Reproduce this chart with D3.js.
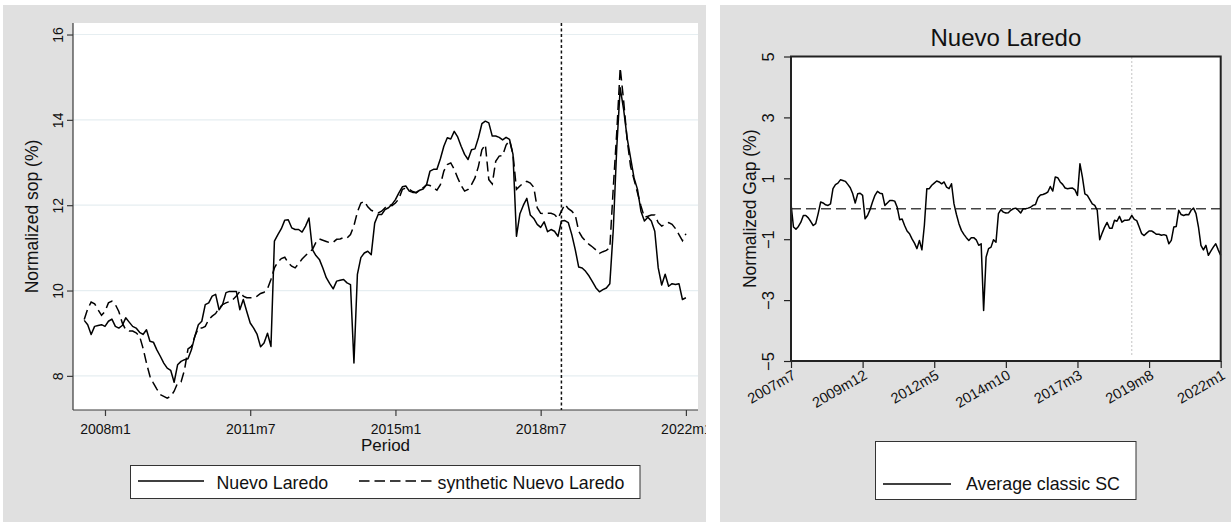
<!DOCTYPE html>
<html>
<head>
<meta charset="utf-8">
<script src="https://cdn.jsdelivr.net/npm/d3@7"></script>
<style>
  html, body { margin: 0; padding: 0; background: #ffffff; }
  svg { display: block; font-family: "Liberation Sans", Arial, sans-serif; }
</style>
</head>
<body>
<svg id="chart" width="1231" height="523"></svg>
<script>
// Monthly series, 2007m7 .. 2022m1
const startYear = 2007, startMonth = 7, nMonths = 175;
const periods = d3.range(nMonths).map(i => {
  const m = startMonth - 1 + i;
  return (startYear + Math.floor(m / 12)) + "m" + (m % 12 + 1);
});

// Normalized sop (%) for Nuevo Laredo
const nuevoLaredo = [
  9.30, 9.20, 8.97, 9.16, 9.18, 9.20, 9.16, 9.28, 9.33, 9.16,
  9.12, 9.18, 9.36, 9.26, 9.16, 9.12, 9.02, 8.97, 9.08, 8.81,
  8.79, 8.61, 8.46, 8.30, 8.18, 8.13, 7.85, 8.26, 8.34, 8.38,
  8.40, 8.61, 8.93, 9.20, 9.28, 9.67, 9.71, 9.87, 9.91, 9.55,
  9.67, 9.95, 9.98, 9.98, 9.98, 9.55, 9.79, 9.51, 9.24, 9.12,
  8.97, 8.68, 8.77, 9.00, 8.69, 11.16, 11.31, 11.45, 11.65, 11.66,
  11.47, 11.43, 11.43, 11.37, 11.51, 11.70, 10.96, 10.82, 10.73, 10.53,
  10.30, 10.16, 10.04, 10.22, 10.24, 10.26, 10.18, 10.14, 8.30, 10.38,
  10.77, 10.88, 10.92, 10.84, 11.58, 11.78, 11.78, 11.90, 11.94, 12.02,
  12.13, 12.29, 12.43, 12.45, 12.33, 12.30, 12.30, 12.35, 12.38, 12.48,
  12.80, 12.84, 12.84, 13.09, 13.38, 13.58, 13.55, 13.73, 13.60, 13.38,
  13.19, 13.07, 13.30, 13.32, 13.58, 13.91, 13.97, 13.93, 13.62, 13.62,
  13.59, 13.53, 13.59, 13.54, 13.19, 11.27, 11.80, 12.00, 12.16, 11.77,
  11.69, 11.55, 11.48, 11.61, 11.38, 11.43, 11.39, 11.27, 11.63, 11.64,
  11.59, 11.31, 10.96, 10.55, 10.53, 10.45, 10.34, 10.20, 10.06, 9.97,
  10.02, 10.06, 10.16, 11.43, 13.34, 14.75, 14.24, 13.58, 13.11, 12.64,
  12.37, 11.86, 11.63, 11.72, 11.63, 11.39, 10.53, 10.13, 10.38, 10.10,
  10.16, 10.14, 10.16, 9.79, 9.83
];

// Normalized sop (%) for the synthetic control
const syntheticNL = [
  9.32, 9.57, 9.73, 9.69, 9.55, 9.42, 9.51, 9.71, 9.75, 9.67,
  9.51, 9.24, 9.08, 9.05, 9.05, 9.01, 8.93, 8.65, 8.30, 7.99,
  7.83, 7.69, 7.56, 7.52, 7.48, 7.52, 7.64, 7.83, 7.86, 8.14,
  8.63, 8.69, 8.93, 9.12, 9.12, 9.16, 9.32, 9.40, 9.46, 9.59,
  9.67, 9.71, 9.74, 9.79, 9.87, 9.98, 9.87, 9.83, 9.83, 9.83,
  9.87, 9.93, 9.96, 10.04, 10.26, 10.53, 10.67, 10.75, 10.78, 10.65,
  10.57, 10.53, 10.63, 10.74, 10.82, 10.90, 10.96, 11.13, 11.21, 11.18,
  11.15, 11.12, 11.13, 11.20, 11.21, 11.24, 11.23, 11.31, 11.52, 11.84,
  12.05, 12.09, 11.96, 11.88, 11.85, 11.82, 11.86, 11.94, 12.01, 11.99,
  12.05, 12.15, 12.37, 12.40, 12.37, 12.32, 12.29, 12.35, 12.41, 12.48,
  12.46, 12.41, 12.35, 12.48, 12.80, 12.95, 12.99, 12.84, 12.64, 12.46,
  12.33, 12.37, 12.48, 12.64, 12.91, 13.30, 13.42, 12.60, 12.50, 13.03,
  13.15, 13.16, 13.41, 13.52, 13.19, 12.37, 12.45, 12.52, 12.56, 12.52,
  12.42, 11.94, 11.81, 11.80, 11.81, 11.81, 11.78, 11.69, 11.86, 12.02,
  11.92, 11.86, 11.77, 11.39, 11.25, 11.16, 11.08, 11.02, 10.95, 10.87,
  10.91, 10.94, 11.00, 12.41, 13.70, 15.22, 14.44, 13.54, 12.91, 12.60,
  12.29, 11.98, 11.72, 11.74, 11.77, 11.77, 11.59, 11.51, 11.55, 11.59,
  11.55, 11.45, 11.31, 11.17, 11.33
];

// Normalized gap (%), average classic SC
const avgClassicGap = [
  0.16, -0.60, -0.67, -0.58, -0.44, -0.22, -0.22, -0.30, -0.42, -0.55,
  -0.49, -0.16, 0.22, 0.19, 0.13, 0.11, 0.16, 0.66, 0.79, 0.84,
  0.95, 0.93, 0.90, 0.80, 0.69, 0.49, 0.19, 0.49, 0.51, 0.44,
  -0.33, -0.22, -0.03, 0.22, 0.44, 0.57, 0.51, 0.49, 0.11, 0.19,
  0.27, 0.27, 0.25, 0.05, -0.36, -0.34, -0.55, -0.73, -0.82, -0.99,
  -1.13, -1.31, -1.04, -1.35, -0.55, 0.66, 0.66, 0.77, 0.84, 0.91,
  0.88, 0.82, 0.88, 0.71, 0.66, 0.82, 0.16, -0.19, -0.49, -0.71,
  -0.84, -0.95, -1.04, -0.95, -0.95, -1.02, -1.20, -1.15, -3.34, -1.59,
  -1.31, -1.26, -1.02, -1.10, -0.16, -0.03, -0.11, -0.14, -0.13, -0.05,
  0.00, 0.02, -0.05, -0.14, 0.00, 0.00, 0.02, 0.05, 0.11, 0.14,
  0.36, 0.45, 0.47, 0.50, 0.55, 0.73, 0.58, 1.04, 1.02, 0.88,
  0.80, 0.68, 0.66, 0.67, 0.68, 0.62, 0.44, 1.48, 1.04, 0.49,
  0.44, 0.30, 0.16, 0.11, -0.05, -1.02, -0.80, -0.60, -0.45, -0.64,
  -0.64, -0.38, -0.41, -0.25, -0.44, -0.38, -0.38, -0.36, -0.22, -0.35,
  -0.39, -0.60, -0.82, -0.88, -0.80, -0.73, -0.73, -0.78, -0.84, -0.84,
  -0.87, -0.85, -0.88, -1.15, -1.04, -0.60, -0.58, -0.05, -0.19, -0.22,
  -0.19, -0.20, -0.05, 0.02, -0.16, -0.60, -1.20, -1.35, -1.20, -1.53,
  -1.39, -1.26, -1.15, -1.35, -1.53
];

const leftXTicks = ["2008m1", "2011m7", "2015m1", "2018m7", "2022m1"];
const leftYTicks = [8, 10, 12, 14, 16];
const rightXTicks = ["2007m7", "2009m12", "2012m5", "2014m10", "2017m3", "2019m8", "2022m1"];
const rightYTicks = [-5, -3, -1, 1, 3, 5];
const treatmentPeriod = "2019m1";
const seriesNames = ["Nuevo Laredo", "synthetic Nuevo Laredo"];
const gapName = "Average classic SC";

const idx = p => periods.indexOf(p);
const svg = d3.select("#chart");
const panelFill = "#e0e0e0";
const axisColor = "#3a3a3a";

// ---------- Left panel: observed vs synthetic ----------
const L = { left: 73, right: 698, top: 23, bottom: 410 };
svg.append("defs").append("clipPath").attr("id", "leftPanelClip")
  .append("rect").attr("x", 3).attr("y", 5).attr("width", 703).attr("height", 517);
const gL = svg.append("g").attr("clip-path", "url(#leftPanelClip)");

gL.append("rect").attr("x", 3).attr("y", 5).attr("width", 703).attr("height", 517).attr("fill", panelFill);
gL.append("rect").attr("x", L.left).attr("y", L.top)
  .attr("width", L.right - L.left).attr("height", L.bottom - L.top).attr("fill", "#fff");

const xL = d3.scaleLinear().domain([-3.25, 177.5]).range([L.left, L.right]);
const yL = d3.scaleLinear().domain([7.2, 16.27]).range([L.bottom, L.top]);

// grid
gL.append("g").selectAll("line").data(leftYTicks).join("line")
  .attr("x1", L.left).attr("x2", L.right)
  .attr("y1", d => yL(d)).attr("y2", d => yL(d))
  .attr("stroke", "#e6eef1").attr("stroke-width", 1.2);

// y axis
const yAxisL = gL.append("g").attr("transform", `translate(${L.left},0)`)
  .call(d3.axisLeft(yL).tickValues(leftYTicks).tickSize(6).tickFormat(d3.format("d")));
yAxisL.select(".domain").attr("stroke", axisColor).attr("stroke-width", 1.2)
  .attr("d", `M0,${L.top}V${L.bottom}`);
yAxisL.selectAll(".tick line").attr("stroke", axisColor).attr("stroke-width", 1.2);
yAxisL.selectAll(".tick text")
  .attr("transform", "rotate(-90)").attr("x", 0).attr("y", -10).attr("dy", 0)
  .attr("text-anchor", "middle").attr("font-size", 14).attr("fill", "#111")
  .attr("font-family", "'Liberation Sans', Arial, sans-serif");

// x axis
const xAxisL = gL.append("g").attr("transform", `translate(0,${L.bottom})`)
  .call(d3.axisBottom(xL).tickValues(leftXTicks.map(idx)).tickSize(6)
    .tickFormat(i => periods[i]));
xAxisL.select(".domain").attr("stroke", axisColor).attr("stroke-width", 1.2)
  .attr("d", `M${L.left},0H${L.right}`);
xAxisL.selectAll(".tick line").attr("stroke", axisColor).attr("stroke-width", 1.2);
xAxisL.selectAll(".tick text").attr("y", 14).attr("dy", "0.71em")
  .attr("font-size", 14).attr("fill", "#111")
  .attr("font-family", "'Liberation Sans', Arial, sans-serif");

gL.append("text").attr("x", (L.left + L.right) / 2).attr("y", 451)
  .attr("text-anchor", "middle").attr("font-size", 17).attr("fill", "#111").text("Period");
gL.append("text")
  .attr("transform", `translate(38,${(L.top + L.bottom) / 2}) rotate(-90)`)
  .attr("text-anchor", "middle").attr("font-size", 17.5).attr("fill", "#111")
  .text("Normalized sop (%)");

// treatment line
gL.append("line")
  .attr("x1", xL(idx(treatmentPeriod))).attr("x2", xL(idx(treatmentPeriod)))
  .attr("y1", L.top).attr("y2", L.bottom)
  .attr("stroke", "#111").attr("stroke-width", 1.5).attr("stroke-dasharray", "3,2.5");

const lineL = d3.line().x((d, i) => xL(i)).y(d => yL(d));
gL.append("path").datum(syntheticNL).attr("d", lineL)
  .attr("fill", "none").attr("stroke", "#000").attr("stroke-width", 1.5)
  .attr("stroke-dasharray", "10,5");
gL.append("path").datum(nuevoLaredo).attr("d", lineL)
  .attr("fill", "none").attr("stroke", "#000").attr("stroke-width", 1.5)
  .attr("stroke-linejoin", "round");

// legend
const lgL = gL.append("g");
lgL.append("rect").attr("x", 130.5).attr("y", 465.5).attr("width", 509.5).attr("height", 33)
  .attr("fill", "#fff").attr("stroke", "#333").attr("stroke-width", 1);
lgL.append("line").attr("x1", 138).attr("x2", 204).attr("y1", 481).attr("y2", 481)
  .attr("stroke", "#000").attr("stroke-width", 1.5);
lgL.append("text").attr("x", 216.5).attr("y", 489).attr("font-size", 17.8).attr("fill", "#111")
  .text(seriesNames[0]);
lgL.append("line").attr("x1", 359).attr("x2", 433).attr("y1", 481).attr("y2", 481)
  .attr("stroke", "#000").attr("stroke-width", 1.5).attr("stroke-dasharray", "10.5,5");
lgL.append("text").attr("x", 437.5).attr("y", 489).attr("font-size", 17.8).attr("fill", "#111")
  .text(seriesNames[1]);

// ---------- Right panel: gap ----------
const R = { left: 791, right: 1220.7, top: 56.5, bottom: 361 };
svg.append("rect").attr("x", 720).attr("y", 5).attr("width", 511).attr("height", 517).attr("fill", panelFill);
svg.append("rect").attr("x", R.left).attr("y", R.top)
  .attr("width", R.right - R.left).attr("height", R.bottom - R.top).attr("fill", "#fff");

const xR = d3.scaleLinear().domain([0, nMonths - 1]).range([R.left, R.right]);
const yR = d3.scaleLinear().domain([-5, 5]).range([R.bottom, R.top]);

svg.append("text").attr("x", (R.left + R.right) / 2).attr("y", 46)
  .attr("text-anchor", "middle").attr("font-size", 24).attr("fill", "#111").text("Nuevo Laredo");

// zero reference
svg.append("line").attr("x1", R.left).attr("x2", R.right).attr("y1", yR(0)).attr("y2", yR(0))
  .attr("stroke", "#444").attr("stroke-width", 1.4).attr("stroke-dasharray", "10,5");
// treatment line
svg.append("line")
  .attr("x1", xR(idx(treatmentPeriod))).attr("x2", xR(idx(treatmentPeriod)))
  .attr("y1", R.top + 1).attr("y2", R.bottom - 4)
  .attr("stroke", "#888").attr("stroke-width", 1).attr("stroke-dasharray", "1,3");

const lineR = d3.line().x((d, i) => xR(i)).y(d => yR(d));
svg.append("path").datum(avgClassicGap).attr("d", lineR)
  .attr("fill", "none").attr("stroke", "#000").attr("stroke-width", 1.5)
  .attr("stroke-linejoin", "round");

// frame
svg.append("rect").attr("x", R.left).attr("y", R.top)
  .attr("width", R.right - R.left).attr("height", R.bottom - R.top)
  .attr("fill", "none").attr("stroke", "#222").attr("stroke-width", 2);

const yAxisR = svg.append("g").attr("transform", `translate(${R.left},0)`)
  .call(d3.axisLeft(yR).tickValues(rightYTicks).tickSize(7).tickFormat(d3.format("d")));
yAxisR.select(".domain").remove();
yAxisR.selectAll(".tick line").attr("stroke", "#222").attr("stroke-width", 1.2);
yAxisR.selectAll(".tick text")
  .attr("transform", "rotate(-90)").attr("x", 0).attr("y", -17).attr("dy", 0)
  .attr("text-anchor", "middle").attr("font-size", 16.5).attr("fill", "#111")
  .attr("font-family", "'Liberation Sans', Arial, sans-serif");

const xAxisR = svg.append("g").attr("transform", `translate(0,${R.bottom})`)
  .call(d3.axisBottom(xR).tickValues(rightXTicks.map(idx)).tickSize(7)
    .tickFormat(i => periods[i]));
xAxisR.select(".domain").remove();
xAxisR.selectAll(".tick line").attr("stroke", "#222").attr("stroke-width", 1.2);
xAxisR.selectAll(".tick text")
  .attr("transform", "translate(0,8) rotate(-30)").attr("x", 0).attr("y", 0).attr("dy", "0.71em")
  .attr("text-anchor", "end").attr("font-size", 14.5).attr("fill", "#111")
  .attr("font-family", "'Liberation Sans', Arial, sans-serif");

svg.append("text")
  .attr("transform", `translate(756,${(R.top + R.bottom) / 2}) rotate(-90)`)
  .attr("text-anchor", "middle").attr("font-size", 17.5).attr("fill", "#111")
  .text("Normalized Gap (%)");

// legend
const lgR = svg.append("g");
lgR.append("rect").attr("x", 875.5).attr("y", 441.5).attr("width", 260.5).attr("height", 58)
  .attr("fill", "#fff").attr("stroke", "#333").attr("stroke-width", 1);
lgR.append("line").attr("x1", 883).attr("x2", 951).attr("y1", 484).attr("y2", 484)
  .attr("stroke", "#000").attr("stroke-width", 1.5);
lgR.append("text").attr("x", 966).attr("y", 490).attr("font-size", 17.8).attr("fill", "#111")
  .text(gapName);
</script>
</body>
</html>
